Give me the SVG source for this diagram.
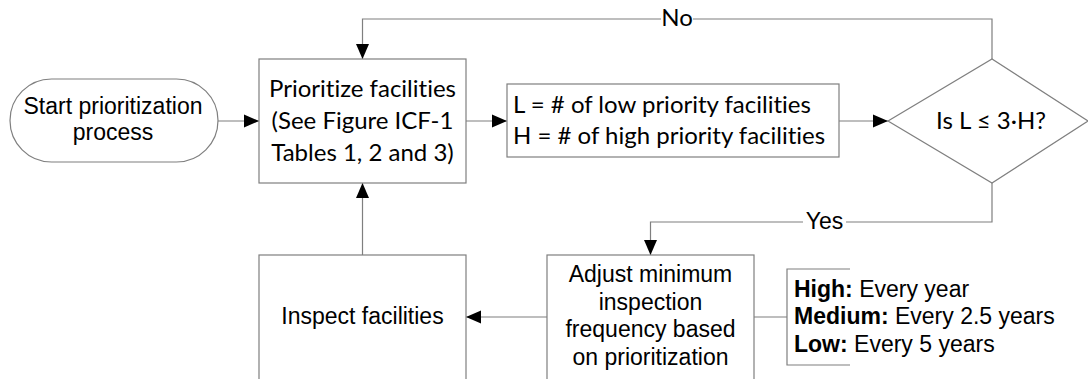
<svg xmlns="http://www.w3.org/2000/svg" width="1088" height="379" viewBox="0 0 1088 379">
<style>
.shape{fill:#fff;stroke:#7f7f7f;stroke-width:1.2}
.conn{fill:none;stroke:#7f7f7f;stroke-width:1.2}
.ar{font-family:"Liberation Sans",Arial,sans-serif;font-size:23px;fill:#000}
.cal{font-family:Lato,"Open Sans",sans-serif;font-size:24px;fill:#000;font-variant-ligatures:none;font-feature-settings:"liga" 0,"clig" 0}
.mid{text-anchor:middle}
.b{font-weight:bold}
</style>
<defs>
<marker id="arr" markerUnits="userSpaceOnUse" markerWidth="16" markerHeight="14" refX="15" refY="7" orient="auto">
<path d="M0,0.5 L15,7 L0,13.5 Z" fill="#000"/>
</marker>
</defs>
<rect width="1088" height="379" fill="#fff"/>
<g id="connectors">
<path class="conn" d="M218,121 H259" marker-end="url(#arr)"/>
<path class="conn" d="M466,121 H507" marker-end="url(#arr)"/>
<path class="conn" d="M839,121 H888" marker-end="url(#arr)"/>
<path class="conn" d="M992,59 V19 H362.5 V59" marker-end="url(#arr)"/>
<path class="conn" d="M992,183 V222 H650.5 V255" marker-end="url(#arr)"/>
<path class="conn" d="M547,317 H466" marker-end="url(#arr)"/>
<path class="conn" d="M362.5,255 V183" marker-end="url(#arr)"/>
<path class="conn" d="M754,317 H787"/>
<rect x="661" y="8" width="32" height="22" fill="#fff"/>
<text class="cal mid" x="677" y="26">No</text>
<rect x="803" y="211" width="43" height="22" fill="#fff"/>
<text class="ar mid" x="824.5" y="229">Yes</text>
</g>
<g id="start">
<rect class="shape" x="10" y="79" width="208" height="83" rx="41.5" ry="41.5"/>
<text class="ar mid" x="113" y="114">Start prioritization</text>
<text class="ar mid" x="113" y="140">process</text>
</g>
<g id="prioritize">
<rect class="shape" x="259" y="59" width="207" height="124"/>
<text class="cal mid" x="362.5" y="97">Prioritize facilities</text>
<text class="cal mid" x="362.5" y="129">(See Figure ICF-1</text>
<text class="cal mid" x="362.5" y="161">Tables 1, 2 and 3)</text>
</g>
<g id="counts">
<rect class="shape" x="507" y="84" width="332" height="73"/>
<text class="cal" x="513" y="112.5">L = # of low priority facilities</text>
<text class="cal" x="513" y="144">H = # of high priority facilities</text>
</g>
<g id="decision">
<polygon class="shape" points="888,121 992,59 1088,121 992,183"/>
<text class="cal mid" x="991" y="129">Is L ≤ 3·H?</text>
</g>
<g id="adjust">
<rect class="shape" x="547" y="255" width="207" height="160"/>
<text class="ar mid" x="650.5" y="282">Adjust minimum</text>
<text class="ar mid" x="650.5" y="309.5">inspection</text>
<text class="ar mid" x="650.5" y="337">frequency based</text>
<text class="ar mid" x="650.5" y="364.5">on prioritization</text>
</g>
<g id="inspect">
<rect class="shape" x="259" y="255" width="207" height="160"/>
<text class="ar mid" x="362.5" y="324">Inspect facilities</text>
</g>
<g id="frequency-note">
<path class="conn" d="M850,269 H787 V365 H850"/>
<text class="ar" x="794" y="297"><tspan class="b">High:</tspan> Every year</text>
<text class="ar" x="794" y="324"><tspan class="b">Medium:</tspan> Every 2.5 years</text>
<text class="ar" x="794" y="352"><tspan class="b">Low:</tspan> Every 5 years</text>
</g>
</svg>
